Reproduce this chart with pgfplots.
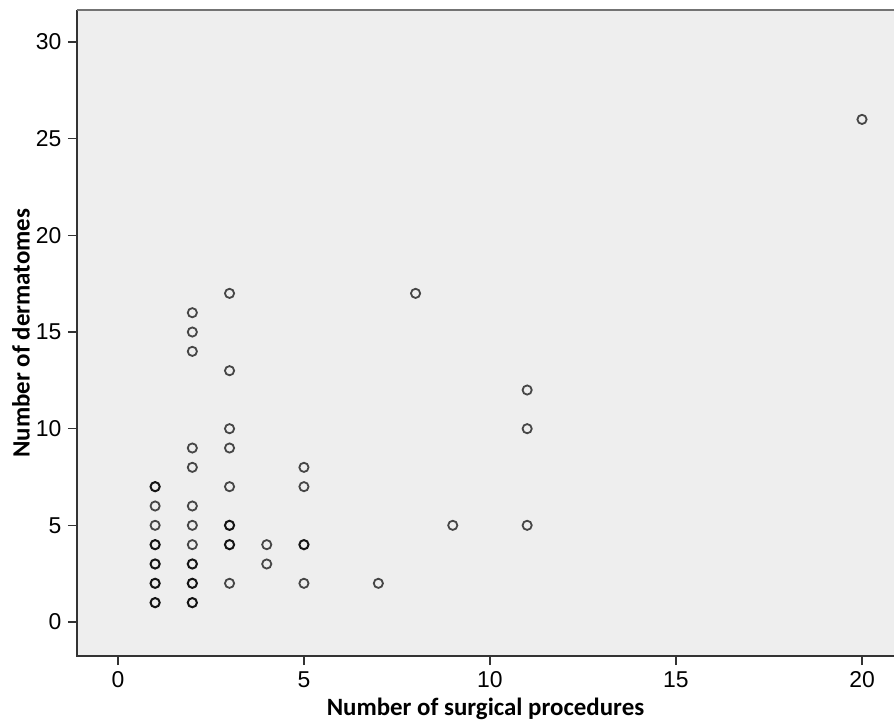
\documentclass[border=0pt]{standalone}
\usepackage{pgfplots}
\pgfplotsset{compat=1.18}
\usepackage{fontspec}
\setmainfont{Liberation Sans}
\newfontfamily\labfont{Carlito}
\definecolor{bgc}{RGB}{238,238,238}
\definecolor{mk}{RGB}{70,70,70}
\definecolor{mkd}{RGB}{20,20,20}
\begin{document}
\begin{tikzpicture}
\begin{axis}[
  scale only axis,
  width=817bp, height=646bp,
  xmin=-1.1, xmax=20.86,
  ymin=-1.76, ymax=31.66,
  xtick={0,5,10,15,20},
  ytick={0,5,10,15,20,25,30},
  xtick pos=left, ytick pos=left,
  tick align=outside,
  major tick length=9bp,
  tick style={line width=1.4bp, color=black!80},
  axis line style={draw=none},
  axis background/.style={fill=bgc},
  /pgf/number format/assume math mode=true,
  xticklabel={\fontsize{23}{23}\selectfont\pgfmathprintnumber{\tick}},
  yticklabel={\fontsize{23}{23}\selectfont\pgfmathprintnumber{\tick}},
  xticklabel style={yshift=-3bp},
  yticklabel style={xshift=-3bp},
  xlabel={Number of surgical procedures},
  ylabel={Number of dermatomes},
  label style={font=\labfont\bfseries\fontsize{25}{25}\selectfont},
  xlabel style={at={(axis description cs:0.5,0)}, anchor=center, yshift=-53bp},
  ylabel style={at={(axis description cs:0,0.5)}, anchor=center, yshift=56bp},
  clip=false,
]
\draw[line width=1.5bp, black!80] (rel axis cs:0,1) -- (rel axis cs:0,0) -- (rel axis cs:1.05,0);
\draw[line width=2bp, black!55] (rel axis cs:0,1) -- (rel axis cs:1.05,1);
\addplot[only marks, mark=o, mark size=4.6bp, mark options={draw=mk, line width=1.8bp}] coordinates {
(1,6) (1,5)
(2,16) (2,15) (2,14) (2,9) (2,8) (2,6) (2,5) (2,4)
(3,17) (3,13) (3,10) (3,9) (3,7) (3,2)
(4,4) (4,3)
(5,8) (5,7) (5,2)
(7,2) (8,17) (9,5)
(11,12) (11,10) (11,5)
(20,26)
};
\addplot[only marks, mark=o, mark size=4.6bp, mark options={draw=mkd, line width=2bp}] coordinates {
(1,7) (1,4) (1,3) (1,2) (1,1)
(2,3) (2,2) (2,1)
(3,5) (3,4)
(5,4)
};
\end{axis}
\pgfresetboundingbox
\path[use as bounding box] (-77bp,-66bp) rectangle (817bp,656bp);
\end{tikzpicture}
\end{document}
